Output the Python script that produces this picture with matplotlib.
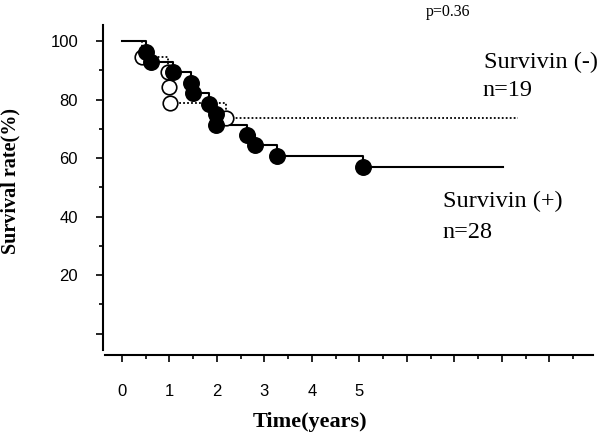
import matplotlib
matplotlib.use("Agg")
import matplotlib.pyplot as plt
from matplotlib.ticker import MultipleLocator

# Survivin (+), n=28: step curve and event times
pos_time = [0.0, 0.50, 0.61, 1.07, 1.45, 1.50, 1.83, 1.98, 1.99, 2.63, 2.80, 3.26, 5.07, 8.02]
pos_surv = [100.0, 96.4, 92.9, 89.3, 85.7, 82.1, 78.6, 75.0, 71.4, 67.9, 64.3, 60.7, 57.1, 57.1]
pos_event_t = [0.50, 0.61, 1.07, 1.45, 1.50, 1.83, 1.98, 1.99, 2.63, 2.80, 3.26, 5.07]
pos_event_s = [96.4, 92.9, 89.3, 85.7, 82.1, 78.6, 75.0, 71.4, 67.9, 64.3, 60.7, 57.1]

# Survivin (-), n=19
neg_time = [0.0, 0.42, 0.97, 1.00, 1.01, 2.20, 8.34]
neg_surv = [100.0, 94.7, 89.5, 84.2, 78.9, 73.7, 73.7]
neg_event_t = [0.42, 0.97, 1.00, 1.01, 2.20]
neg_event_s = [94.7, 89.5, 84.2, 78.9, 73.7]

x_labels = ["0", "1", "2", "3", "4", "5", "", "", "", ""]
y_ticks = [20, 40, 60, 80, 100]

serif = ["Liberation Serif", "DejaVu Serif"]
sans = ["Liberation Sans", "DejaVu Sans"]

fig = plt.figure(figsize=(6, 4.37), dpi=100, facecolor="white")
ax = fig.add_axes([103 / 600, 82 / 437, 490 / 600, 330 / 437])

ax.step(neg_time, neg_surv, where="post", color="black", lw=1.3,
        linestyle=(0, (1, 1.2)), zorder=2)
ax.step(pos_time, pos_surv, where="post", color="black", lw=1.5, zorder=3)
ax.scatter(neg_event_t, neg_event_s, s=110, facecolor="white",
           edgecolor="black", linewidth=1.2, zorder=4)
ax.scatter(pos_event_t, pos_event_s, s=125, color="black", zorder=5)

ax.set_xlim(-0.4, 9.92)
ax.set_ylim(-7.35, 105.5)

for side in ("top", "right"):
    ax.spines[side].set_visible(False)
for side in ("left", "bottom"):
    ax.spines[side].set_linewidth(1.5)
ax.spines["left"].set_bounds(-5.6, 105.5)
ax.spines["bottom"].set_bounds(-0.36, 9.92)

ax.set_xticks(range(10))
ax.set_xticklabels(x_labels, fontfamily=sans, fontsize=12)
ax.xaxis.set_minor_locator(MultipleLocator(0.5))
ax.set_yticks([0] + y_ticks)
ax.set_yticklabels([""] + [str(v) for v in y_ticks], fontfamily=sans, fontsize=12)
ax.yaxis.set_minor_locator(MultipleLocator(10))
ax.tick_params(which="major", length=5, width=1.2, direction="out")
ax.tick_params(which="minor", length=3, width=1.2, direction="out")
ax.tick_params(axis="x", which="major", pad=16)
ax.tick_params(axis="y", which="major", pad=13)

ax.text(6.39, 109.9, "p=0.36", fontfamily=serif, fontsize=11.5,
        ha="left", va="center", clip_on=False)
ax.text(7.63, 92.8, "Survivin (-)", fontfamily=serif, fontsize=17.5,
        ha="left", va="center", clip_on=False)
ax.text(7.59, 83.2, "n=19", fontfamily=serif, fontsize=17.5,
        ha="left", va="center", clip_on=False)
ax.text(6.76, 45.0, "Survivin (+)", fontfamily=serif, fontsize=17.5,
        ha="left", va="center")
ax.text(6.76, 34.7, "n=28", fontfamily=serif, fontsize=17.5,
        ha="left", va="center")

fig.text(10 / 600, 1 - 181 / 437, "Survival rate(%)", rotation=90,
         fontfamily=serif, fontsize=14.5, fontweight="bold",
         ha="center", va="center")
fig.text(310 / 600, 1 - 422 / 437, "Time(years)",
         fontfamily=serif, fontsize=16, fontweight="bold",
         ha="center", va="center")

fig.savefig("out.png", dpi=100, facecolor="white")
